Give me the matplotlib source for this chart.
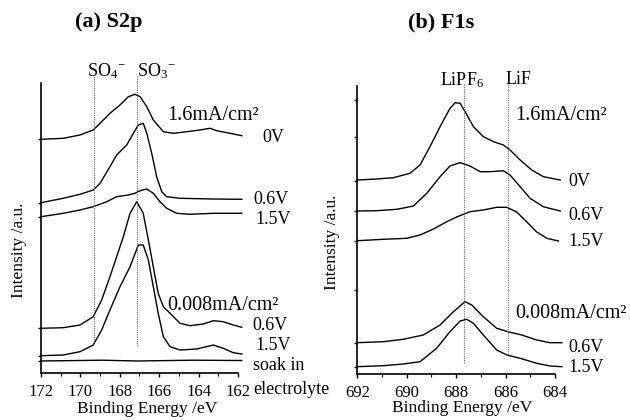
import matplotlib
matplotlib.use("Agg")
import matplotlib.pyplot as plt
from matplotlib.ticker import MultipleLocator, NullFormatter

plt.rcParams['font.family'] = ['Liberation Serif', 'DejaVu Serif']
plt.rcParams['mathtext.fontset'] = 'custom'
plt.rcParams['mathtext.rm'] = 'Liberation Serif'
plt.rcParams['mathtext.it'] = 'Liberation Serif:italic'

# ---- (a) S2p spectra: binding energy (eV) and stacked intensity (a.u.) ----
s2p_be_0v = [172.0, 170.87, 170.02, 169.35, 169.0, 168.5, 167.99, 167.57, 167.23, 166.97,
             166.63, 166.3, 165.79, 165.28, 164.6, 163.93, 163.42, 163.08, 162.41, 161.81]
s2p_i_0v = [233.7, 234.7, 238, 243, 249.7, 259.7, 268, 276.3, 278.7, 276.3,
            266.3, 253, 241.3, 239.7, 241.3, 243, 244.7, 242.3, 239.7, 237.3]

s2p_be_06v = [172.0, 170.87, 170.02, 169.35, 169.0, 168.5, 168.16, 167.65, 167.31, 167.06,
              166.81, 166.63, 166.38, 166.13, 165.87, 165.62, 164.94, 163.25, 161.81]
s2p_i_06v = [170.3, 174.7, 178.7, 183, 189.7, 206.3, 218, 228, 239.7, 248,
             249.7, 239.7, 219.7, 196.3, 181.3, 176.3, 174.7, 174, 173.7]

s2p_be_15v = [172.0, 170.87, 170.02, 169.35, 168.66, 168.16, 167.57, 167.23, 166.97, 166.63,
              166.3, 165.96, 165.62, 165.11, 164.44, 163.25, 161.81]
s2p_i_15v = [156.3, 159.7, 163, 166.3, 171.3, 176.3, 178, 179.7, 182.3, 184,
             179.7, 171.3, 164.7, 159.7, 158.7, 159.7, 159.7]

s2p_be_low06v = [172.0, 170.87, 170.02, 169.35, 168.92, 168.5, 168.16, 167.82, 167.48, 167.14,
                 166.81, 166.55, 166.3, 166.05, 165.79, 165.45, 164.94, 164.44, 163.76, 163.25,
                 162.75, 162.24, 161.81]
s2p_i_low06v = [44.7, 45.3, 48, 56.3, 73, 96.3, 116.3, 136.3, 159.7, 171.3,
                159.7, 133, 106.3, 79.7, 66.3, 59.7, 49.7, 47.3, 49, 52.3,
                51.3, 48, 45.7]

s2p_be_low15v = [172.0, 170.87, 170.02, 169.35, 168.92, 168.5, 167.99, 167.48, 167.06, 166.81,
                 166.55, 166.3, 166.05, 165.79, 165.45, 164.94, 164.1, 163.25, 162.75, 162.24,
                 161.81]
s2p_i_low15v = [17.3, 18, 21.3, 28, 43, 63, 86.3, 106.3, 128, 128,
                113, 86.3, 59.7, 36.3, 26.3, 23, 24, 28, 24.7, 20.3,
                19]

s2p_be_soak = [172.0, 168.9, 167.1, 164.3, 161.81]
s2p_i_soak = [12, 12.8, 12, 12.8, 12.5]

s2p_ref_be = [169.31, 167.11]          # SO4-, SO3-
s2p_ref_lo = [31.3, 27.3]
s2p_ref_hi = [298, 298]
s2p_yticks = [233.7, 170.3, 156.3, 44.7, 17.3, 12]

# ---- (b) F1s spectra ----
f1s_be_0v = [692.0, 691.21, 690.54, 689.87, 689.46, 689.06, 688.65, 688.25, 688.04, 687.84,
             687.64, 687.3, 686.9, 686.49, 686.09, 685.82, 685.41, 684.94, 684.47, 683.79]
f1s_i_0v = [194, 195, 196.3, 200.7, 209, 227.3, 247.3, 265.7, 271.3, 270.7,
            262.3, 247.3, 237.3, 232.3, 229, 224, 214, 204, 197.3, 194]

f1s_be_06v = [692.0, 691.21, 690.4, 689.73, 689.19, 688.65, 688.25, 687.84, 687.44, 687.03,
              686.63, 686.09, 685.82, 685.41, 685.01, 684.47, 683.79]
f1s_i_06v = [163, 163.3, 164.7, 168, 180.7, 197.3, 208, 211.3, 208, 202.3,
             202.3, 203.3, 199, 187.3, 175.7, 167.3, 163]

f1s_be_15v = [692.0, 690.95, 690.0, 689.46, 688.92, 688.38, 687.98, 687.44, 686.9, 686.36,
              685.95, 685.55, 685.14, 684.74, 684.33, 683.86]
f1s_i_15v = [133.3, 134.7, 135.7, 139, 145, 152.3, 157, 162.3, 164, 166.7,
             166.7, 162, 152, 142, 135.7, 133]

f1s_be_low06v = [692.0, 690.95, 690.14, 689.33, 688.65, 688.11, 687.64, 687.37, 686.9, 686.36,
                 685.82, 685.34, 684.74, 684.2, 683.72]
f1s_i_low06v = [31.3, 32.3, 34.7, 39, 49, 62.3, 72.3, 69, 57.3, 45.7,
                41.7, 39, 34, 31.3, 31.3]

f1s_be_low15v = [692.0, 690.95, 690.14, 689.46, 688.79, 688.25, 687.84, 687.57, 687.3, 686.9,
                 686.36, 685.95, 685.41, 684.74, 684.2, 683.72]
f1s_i_low15v = [7.3, 8.3, 10, 12.3, 25.7, 42.3, 53, 54.7, 50.7, 39,
                24, 19, 15.7, 10.7, 8, 7.3]

f1s_ref_be = [687.67, 685.89]          # LiPF6, LiF
f1s_ref_lo = [10.7, 19.7]
f1s_ref_hi = [290, 290]
f1s_yticks = [274, 237, 193, 163, 133, 84, 31, 7]


fig = plt.figure(figsize=(6.3, 4.2), dpi=100)
ax1 = fig.add_axes([41 / 630, 47 / 420, 197 / 630, 290 / 420])
ax2 = fig.add_axes([357.3 / 630, 46 / 420, 197.7 / 630, 288 / 420])


def style_axes(ax, xlim, ylim, yticks):
    ax.set_xlim(*xlim)
    ax.set_ylim(*ylim)
    for side in ('top', 'right'):
        ax.spines[side].set_visible(False)
    ax.spines['left'].set_linewidth(1.2)
    ax.spines['bottom'].set_linewidth(1.2)
    ax.xaxis.set_major_locator(MultipleLocator(2))
    ax.xaxis.set_minor_locator(MultipleLocator(1))
    ax.tick_params(axis='x', which='major', direction='out', length=3, width=1,
                   labelsize=12, pad=5)
    ax.tick_params(axis='x', which='minor', direction='out', length=2, width=0.8)
    ax.set_yticks(yticks)
    ax.yaxis.set_major_formatter(NullFormatter())
    ax.tick_params(axis='y', direction='out', length=2, width=1)


lw = 1.0
style_axes(ax1, (172, 162), (0, 290), s2p_yticks)
for be, inten in [(s2p_be_0v, s2p_i_0v), (s2p_be_06v, s2p_i_06v), (s2p_be_15v, s2p_i_15v),
                  (s2p_be_low06v, s2p_i_low06v), (s2p_be_low15v, s2p_i_low15v),
                  (s2p_be_soak, s2p_i_soak)]:
    ax1.plot(be, inten, color='black', lw=lw, clip_on=False, solid_joinstyle='round')
ax1.vlines(s2p_ref_be, s2p_ref_lo, s2p_ref_hi, colors='#666666', linestyles=(0, (1, 1)),
           lw=0.8, clip_on=False)

style_axes(ax2, (692, 684), (0, 288), f1s_yticks)
for be, inten in [(f1s_be_0v, f1s_i_0v), (f1s_be_06v, f1s_i_06v), (f1s_be_15v, f1s_i_15v),
                  (f1s_be_low06v, f1s_i_low06v), (f1s_be_low15v, f1s_i_low15v)]:
    ax2.plot(be, inten, color='black', lw=lw, clip_on=False, solid_joinstyle='round')
ax2.vlines(f1s_ref_be, f1s_ref_lo, f1s_ref_hi, colors='#666666', linestyles=(0, (1, 1)),
           lw=0.8, clip_on=False)

fs = 13
big = 14.5
# panel (a) annotations
ax1.text(169.66, 302, r"SO$_4{}^{\mathrm{-}}$", fontsize=fs, ha='left', va='center')
ax1.text(167.13, 302, r"SO$_3{}^{\mathrm{-}}$", fontsize=fs, ha='left', va='center')
ax1.text(165.6, 258, "1.6mA/cm²", fontsize=big, ha='left', va='center')
ax1.text(160.78, 236, "0V", fontsize=fs, ha='left', va='center')
ax1.text(161.24, 173, "0.6V", fontsize=fs, ha='left', va='center')
ax1.text(161.14, 153, "1.5V", fontsize=fs, ha='left', va='center')
ax1.text(165.6, 68, "0.008mA/cm²", fontsize=big, ha='left', va='center')
ax1.text(161.29, 48, "0.6V", fontsize=fs, ha='left', va='center')
ax1.text(161.14, 28, "1.5V", fontsize=fs, ha='left', va='center')
ax1.text(161.24, 7, "soak in", fontsize=fs, ha='left', va='center')
ax1.text(161.24, -17, "electrolyte", fontsize=fs, ha='left', va='center')

# panel (b) annotations
ax2.text(688.65, 294, r"LiPF$_6$", fontsize=fs, ha='left', va='center')
ax2.text(686.02, 294, "LiF", fontsize=fs, ha='left', va='center')
ax2.text(685.62, 259, "1.6mA/cm²", fontsize=big, ha='left', va='center')
ax2.text(683.47, 192, "0V", fontsize=fs, ha='left', va='center')
ax2.text(683.47, 159, "0.6V", fontsize=fs, ha='left', va='center')
ax2.text(683.47, 132, "1.5V", fontsize=fs, ha='left', va='center')
ax2.text(685.62, 61, "0.008mA/cm²", fontsize=big, ha='left', va='center')
ax2.text(683.47, 27, "0.6V", fontsize=fs, ha='left', va='center')
ax2.text(683.47, 7, "1.5V", fontsize=fs, ha='left', va='center')

# titles and axis labels
fig.text(109 / 630, 1 - 22 / 420, "(a) S2p", fontsize=16, fontweight='bold',
         ha='center', va='center')
fig.text(441 / 630, 1 - 22 / 420, "(b) F1s", fontsize=16, fontweight='bold',
         ha='center', va='center')
fig.text(19 / 630, 1 - 250 / 420, "Intensity /a.u.", fontsize=12.5, rotation=90,
         ha='center', va='center')
fig.text(332 / 630, 1 - 242 / 420, "Intensity /a.u.", fontsize=12.5, rotation=90,
         ha='center', va='center')
fig.text(147 / 630, 1 - 409 / 420, "Binding Energy /eV", fontsize=12.5,
         ha='center', va='center')
fig.text(462 / 630, 1 - 408 / 420, "Binding Energy /eV", fontsize=12.5,
         ha='center', va='center')

fig.savefig("out.png", dpi=100)
